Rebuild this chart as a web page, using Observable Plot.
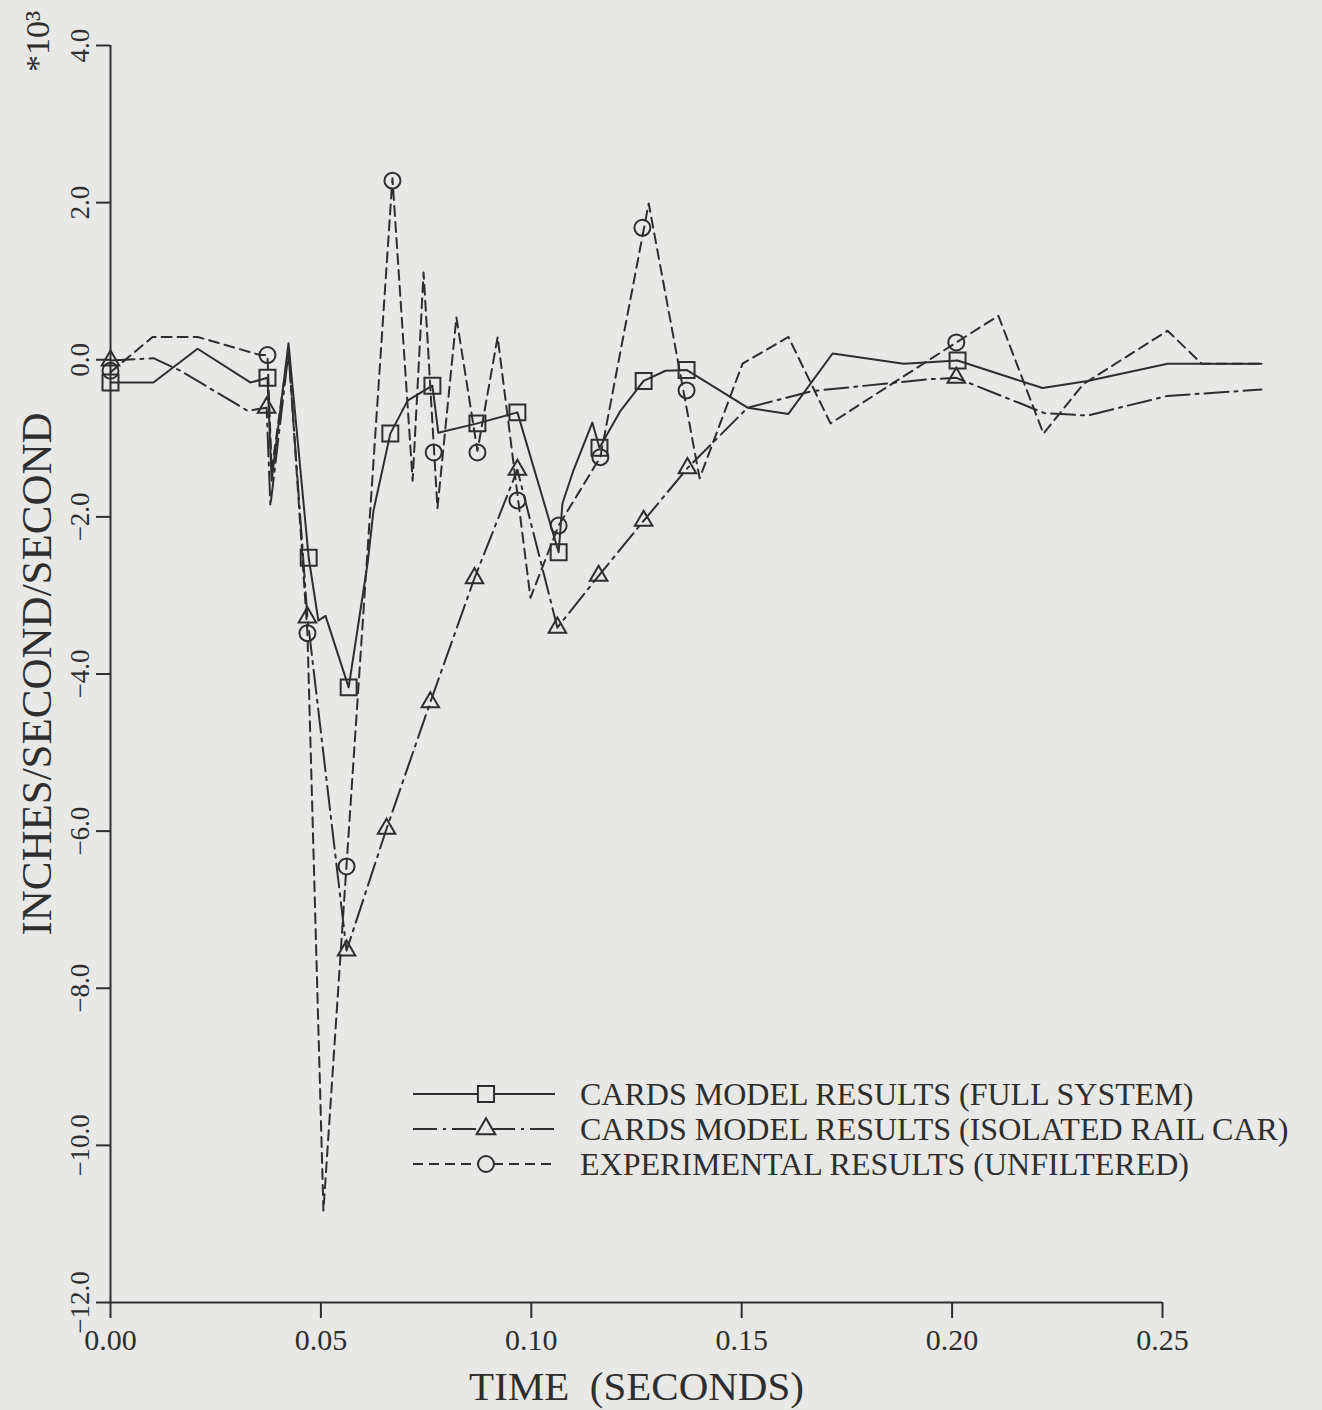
<!DOCTYPE html>
<html>
<head>
<meta charset="utf-8">
<script src="https://cdn.jsdelivr.net/npm/d3@7"></script>
<script src="https://cdn.jsdelivr.net/npm/@observablehq/plot@0.6"></script>
<style>
  html, body { margin: 0; padding: 0; background: #e8e8e6; }
  #chart { width: 1322px; height: 1410px; }
</style>
</head>
<body>
<div id="chart"></div>
<script>
// ---- Data (acceleration, x10^3 in/s/s, vs time in seconds) ----
// CARDS model results (full system) — solid line, square markers
const fullT = [0.0, 0.0102, 0.0207, 0.0333, 0.0373, 0.0383, 0.0423, 0.0471, 0.0494, 0.0511, 0.0566, 0.0611, 0.0625, 0.0665, 0.0706, 0.0765, 0.0779, 0.0872, 0.0967, 0.1065, 0.1074, 0.1100, 0.1145, 0.1162, 0.1212, 0.1267, 0.1319, 0.1369, 0.1514, 0.1611, 0.1716, 0.1885, 0.2013, 0.2215, 0.2322, 0.2512, 0.2735];
const fullV = [-0.29, -0.29, 0.14, -0.29, -0.23, -1.54, 0.21, -2.52, -3.32, -3.26, -4.17, -2.59, -1.92, -0.94, -0.52, -0.33, -0.93, -0.81, -0.67, -2.45, -1.83, -1.41, -0.80, -1.12, -0.65, -0.27, -0.14, -0.13, -0.61, -0.69, 0.08, -0.05, -0.01, -0.36, -0.27, -0.05, -0.05];
const fullMarkT = [0.0, 0.0373, 0.0471, 0.0566, 0.0665, 0.0765, 0.0872, 0.0967, 0.1065, 0.1162, 0.1267, 0.1369, 0.2013];
const fullMarkV = [-0.29, -0.23, -2.52, -4.17, -0.94, -0.33, -0.81, -0.67, -2.45, -1.12, -0.27, -0.13, -0.01];

// CARDS model results (isolated rail car) — dash-dot line, triangle markers
const isoT = [0.0, 0.0102, 0.0166, 0.0326, 0.0371, 0.0380, 0.0423, 0.0468, 0.0561, 0.0656, 0.0760, 0.0865, 0.0967, 0.1062, 0.1160, 0.1267, 0.1371, 0.1514, 0.1666, 0.1939, 0.2010, 0.2220, 0.2322, 0.2512, 0.2735];
const isoV = [-0.01, 0.02, -0.14, -0.65, -0.61, -1.86, 0.09, -3.28, -7.52, -5.97, -4.36, -2.78, -1.40, -3.41, -2.75, -2.05, -1.38, -0.61, -0.40, -0.25, -0.23, -0.68, -0.71, -0.46, -0.38];
const isoMarkT = [0.0, 0.0371, 0.0468, 0.0561, 0.0656, 0.0760, 0.0865, 0.0967, 0.1062, 0.1160, 0.1267, 0.1371, 0.2010];
const isoMarkV = [-0.01, -0.61, -3.28, -7.52, -5.97, -4.36, -2.78, -1.40, -3.41, -2.75, -2.05, -1.38, -0.23];

// Experimental results (unfiltered) — dashed line, circle markers
const expT = [0.0, 0.0100, 0.0207, 0.0356, 0.0373, 0.0383, 0.0423, 0.0468, 0.0506, 0.0670, 0.0718, 0.0744, 0.0777, 0.0822, 0.0872, 0.0920, 0.0998, 0.1065, 0.1164, 0.1279, 0.1400, 0.1502, 0.1611, 0.1711, 0.2010, 0.2110, 0.2217, 0.2312, 0.2512, 0.2593, 0.2735];
const expV = [-0.16, 0.29, 0.29, 0.06, 0.06, -1.41, 0.14, -3.48, -10.83, 2.31, -1.54, 1.11, -1.89, 0.54, -1.16, 0.29, -3.03, -2.11, -1.24, 1.99, -1.51, -0.05, 0.29, -0.81, 0.22, 0.56, -0.94, -0.31, 0.37, -0.05, -0.05];
const expMarkT = [0.0, 0.0373, 0.0468, 0.0561, 0.0670, 0.0768, 0.0872, 0.0967, 0.1065, 0.1164, 0.1264, 0.1369, 0.2010];
const expMarkV = [-0.14, 0.06, -3.48, -6.45, 2.28, -1.18, -1.18, -1.79, -2.11, -1.24, 1.68, -0.39, 0.22];

// Axes
const xTicks = [0, 0.05, 0.10, 0.15, 0.20, 0.25];
const yTicks = [4, 2, 0, -2, -4, -6, -8, -10, -12];
const xTitle = "TIME\u00a0\u00a0(SECONDS)";
const yTitle = "INCHES/SECOND/SECOND";
const yExponent = "*10\u00b3";

// Legend
const seriesNames = [
  "CARDS MODEL RESULTS (FULL SYSTEM)",
  "CARDS MODEL RESULTS (ISOLATED RAIL CAR)",
  "EXPERIMENTAL RESULTS (UNFILTERED)"
];

// ---- Build ----
const ink = "#2e2e2e";
const paper = "#e8e8e6";
const serif = "'Liberation Serif', 'DejaVu Serif', serif";
const dashDot = "24,6,3,6";
const dashed = "10,6";

const rows = (T, V) => T.map((t, i) => ({t, v: V[i]}));
const full = rows(fullT, fullV), fullM = rows(fullMarkT, fullMarkV);
const iso = rows(isoT, isoV), isoM = rows(isoMarkT, isoMarkV);
const exp = rows(expT, expV), expM = rows(expMarkT, expMarkV);

const chart = Plot.plot({
  width: 1322,
  height: 1410,
  marginLeft: 110,
  marginRight: 160,
  marginTop: 45,
  marginBottom: 108,
  x: {domain: [0, 0.25]},
  y: {domain: [-12, 4]},
  style: {background: "transparent", fontFamily: serif, color: ink, overflow: "visible"},
  marks: [
    Plot.ruleY([-12], {stroke: ink, strokeWidth: 2}),
    Plot.ruleX([0], {stroke: ink, strokeWidth: 2}),
    Plot.axisY({ticks: yTicks, tickSize: 14, tickPadding: 8, tickRotate: -90,
      tickFormat: d3.format(".1f"), fontSize: 27, fontFamily: serif, label: null, stroke: ink, strokeWidth: 2}),
    Plot.axisX({ticks: xTicks, tickSize: 16, tickPadding: 10,
      tickFormat: d3.format(".2f"), fontSize: 30, fontFamily: serif, label: null, stroke: ink, strokeWidth: 2}),
    Plot.text([yExponent], {text: d => d, frameAnchor: "top-left", dx: -72, dy: -4, rotate: -90,
      textAnchor: "middle", lineAnchor: "middle", fontSize: 34, fill: ink}),
    Plot.text([yTitle], {text: d => d, frameAnchor: "left", dx: -73, rotate: -90,
      textAnchor: "middle", lineAnchor: "middle", fontSize: 43, fill: ink}),
    Plot.text([xTitle], {text: d => d, frameAnchor: "bottom", dy: 84,
      textAnchor: "middle", lineAnchor: "middle", fontSize: 41, fill: ink}),
    Plot.line(exp, {x: "t", y: "v", stroke: ink, strokeWidth: 2, strokeDasharray: dashed}),
    Plot.line(iso, {x: "t", y: "v", stroke: ink, strokeWidth: 2, strokeDasharray: dashDot}),
    Plot.line(full, {x: "t", y: "v", stroke: ink, strokeWidth: 2}),
    Plot.dot(expM, {x: "t", y: "v", symbol: "circle", r: 8, stroke: ink, strokeWidth: 2, fill: "none"}),
    Plot.dot(isoM, {x: "t", y: "v", symbol: "triangle", r: 6.5, stroke: ink, strokeWidth: 2, fill: "none"}),
    Plot.dot(fullM, {x: "t", y: "v", symbol: "square", r: 9, stroke: ink, strokeWidth: 2, fill: "none"})
  ]
});

// Legend inside the plot area (lower right)
const svg = d3.select(chart);
const lg = svg.append("g").attr("class", "legend").attr("text-anchor", "start");
const styles = [
  {dash: null, sym: d3.symbolSquare, size: 260},
  {dash: dashDot, sym: d3.symbolTriangle, size: 150},
  {dash: dashed, sym: d3.symbolCircle, size: 200}
];
seriesNames.forEach((name, i) => {
  const y = 1094 + i * 35;
  const row = lg.append("g").attr("transform", `translate(0,${y})`);
  row.append("line").attr("x1", 413).attr("x2", 555).attr("y1", 0).attr("y2", 0)
    .attr("stroke", ink).attr("stroke-width", 2)
    .attr("stroke-dasharray", styles[i].dash);
  row.append("path").attr("d", d3.symbol(styles[i].sym, styles[i].size)())
    .attr("transform", "translate(486,0)")
    .attr("fill", paper).attr("stroke", ink).attr("stroke-width", 2);
  row.append("text").attr("x", 580).attr("y", 0).attr("dy", "0.35em")
    .attr("text-anchor", "start")
    .attr("font-family", serif).attr("font-size", 32).attr("fill", ink)
    .text(name);
});

document.getElementById("chart").appendChild(chart);
</script>
</body>
</html>
